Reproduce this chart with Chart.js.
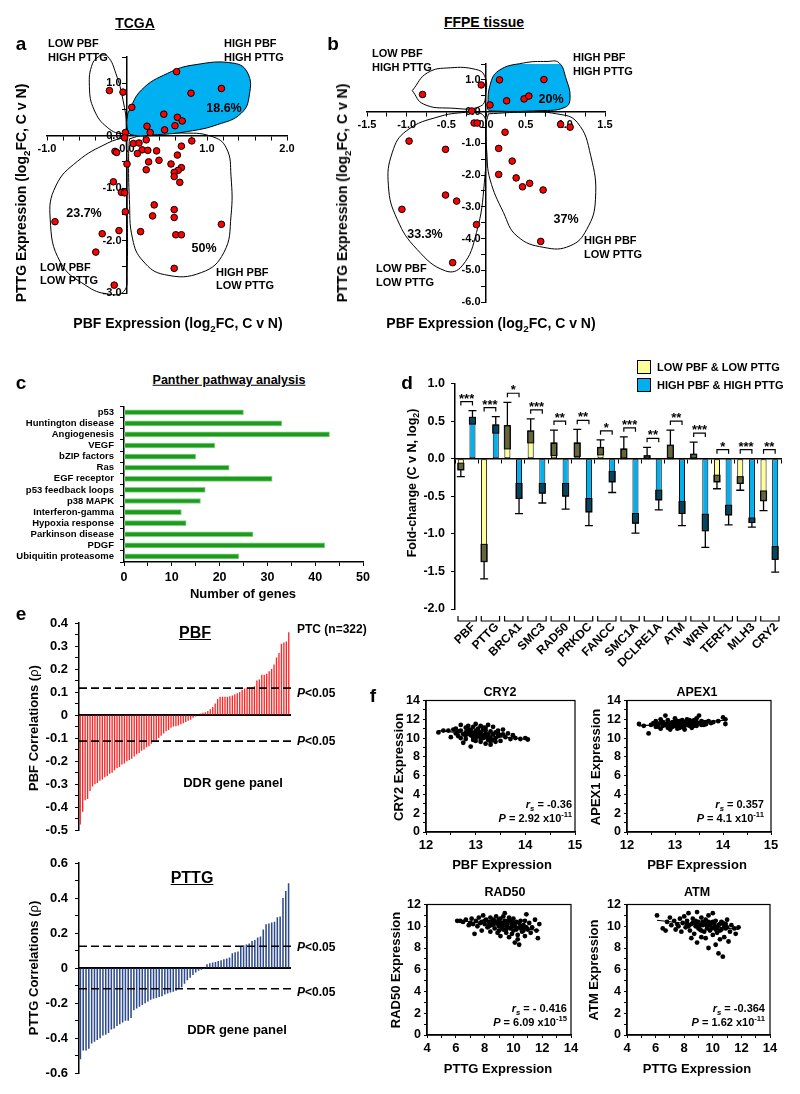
<!DOCTYPE html>
<html>
<head>
<meta charset="utf-8">
<title>PBF / PTTG figure</title>
<script src="https://cdn.jsdelivr.net/npm/chart.js@4.4.1/dist/chart.umd.min.js"></script>
<style>
  body { margin: 0; background: #fff; }
  #fig { position: relative; width: 800px; height: 1094px; overflow: hidden;
         font-family: "Liberation Sans", Arial, sans-serif; font-weight: bold; color: #000; }
  #fig canvas { position: absolute; }
  .t { position: absolute; white-space: nowrap; line-height: 1; z-index: 2; }
  .t sub, .t sup { font-size: 70%; line-height: 0; }
</style>
</head>
<body>
<div id="fig"></div>
<script>
// ---- a: TCGA (log2FC, cancer v normal) ----
const tcgaPbf  = [-0.22, -0.05,
  0.62, 0.80, 1.18, 0.06, 0.46, 0.63, 0.69, 0.60, 0.25, 0.47, 0.29,
  -0.02, -0.03,
  0.81, 0.24, 0.08, 0.15, 0.68, 0.19, 0.13, 0.26, 0.37, 0.27, 0.40, 0.24, 0.55, 0.63,
  0.68, 0.64, 0.59, 0.59, 0.66, 0.34, 0.59, 0.32, 0.59, 0.17, 0.61, 0.68, 1.18, 0.59,
  -0.15, -0.13, 0.00, -0.17, -0.07, -0.03, -0.02, -0.10, -0.31, -0.90, -0.39, -0.16];
const tcgaPttg = [0.86, 0.83,
  1.22, 0.81, 0.90, 0.54, 0.41, 0.35, 0.28, 0.19, 0.18, 0.11, 0.06,
  0.06, -0.04,
  -0.10, -0.08, -0.15, -0.14, -0.20, -0.27, -0.34, -0.28, -0.29, -0.50, -0.47, -0.65, -0.54, -0.37,
  -0.61, -0.66, -0.70, -0.78, -0.89, -1.32, -1.41, -1.53, -1.56, -1.83, -1.89, -1.89, -1.69, -2.53,
  -0.30, -0.32, -0.54, -0.88, -1.08, -1.09, -1.45, -1.81, -1.87, -1.64, -2.22, -2.85];
const tcgaHighHigh = [[0.01,0.43],[0.18,0.87],[0.51,1.19],[0.84,1.35],[1.34,1.38],[1.51,1.19],[1.53,0.78],
  [1.43,0.43],[1.13,0.21],[0.76,0.08],[0.38,0.02],[0.05,0.02],[0.0,0.18],[0.01,0.43]];
const tcgaLowHigh = [[-0.33,1.54],[-0.43,1.38],[-0.47,0.94],[-0.41,0.49],[-0.24,0.15],[-0.05,0.04],
  [-0.01,0.18],[-0.05,0.68],[-0.14,1.19],[-0.24,1.51],[-0.33,1.54]];
const tcgaLowLow = [[-0.03,-0.03],[-0.24,-0.14],[-0.62,-0.49],[-0.89,-0.96],[-0.96,-1.59],[-0.83,-2.42],
  [-0.51,-2.86],[-0.24,-3.02],[-0.04,-2.97],[0.0,-2.61],[0.0,-1.22],[-0.01,-0.14],[-0.03,-0.03]];
const tcgaHighLow = [[0.03,-0.06],[0.26,0.03],[0.68,0.05],[1.05,-0.01],[1.24,-0.23],[1.30,-0.77],[1.30,-1.53],
  [1.21,-2.23],[0.93,-2.61],[0.47,-2.65],[0.20,-2.39],[0.07,-1.97],[0.03,-1.22],[0.02,-0.39],[0.03,-0.06]];

// ---- b: FFPE tissue ----
const ffpePbf  = [-0.80, -0.06, 0.17, 0.73, 0.26, 0.48, 0.54, 0.05, -0.18,
  -0.15, -0.11, -0.97, -0.51, -0.51, -0.37, -1.06, -0.12, -0.42,
  0.94, 1.06, 0.24, 0.16, 0.33, 0.16, 0.38, 0.46, 0.55, 0.72, 0.69];
const ffpePttg = [0.54, 0.84, 1.00, 1.01, 0.34, 0.40, 0.49, 0.21, 0.02,
  -0.36, -0.36, -0.93, -1.19, -2.63, -2.82, -3.08, -3.56, -4.76,
  -0.40, -0.49, -0.65, -1.16, -1.56, -1.98, -2.09, -2.37, -2.26, -2.47, -4.09];
const ffpeHighHigh = [[0.02,0.08],[0.05,0.82],[0.16,1.29],[0.47,1.53],[0.77,1.58],[0.92,1.54],[1.01,1.03],
  [1.06,0.45],[1.00,0.14],[0.68,0.03],[0.05,0.02],[0.02,0.08]];
const ffpeLowHigh = [[-0.93,0.66],[-0.79,0.24],[-0.45,0.11],[-0.07,0.17],[0.0,0.61],[-0.02,1.14],
  [-0.13,1.33],[-0.45,1.38],[-0.74,1.22],[-0.93,0.66]];
const ffpeLowLow = [[-0.20,0.0],[-0.58,-0.15],[-1.0,-0.60],[-1.18,-1.28],[-1.23,-2.34],[-1.12,-3.39],
  [-0.87,-4.34],[-0.51,-5.02],[-0.30,-4.86],[-0.12,-3.81],[-0.02,-2.23],[0.0,-0.65],[-0.03,-0.13],[-0.20,0.0]];
const ffpeHighLow = [[0.03,-0.07],[0.47,-0.02],[0.89,-0.07],[1.15,-0.34],[1.32,-1.39],[1.38,-2.76],[1.27,-3.71],
  [1.06,-4.23],[0.73,-4.28],[0.39,-3.92],[0.22,-3.18],[0.05,-2.13],[0.01,-1.28],[0.0,-0.44],[0.03,-0.07]];

// ---- c: Panther pathways ----
const pathways = ['p53', 'Huntington disease', 'Angiogenesis', 'VEGF', 'bZIP factors', 'Ras', 'EGF receptor',
  'p53 feedback loops', 'p38 MAPK', 'Interferon-gamma', 'Hypoxia response', 'Parkinson disease', 'PDGF',
  'Ubiquitin proteasome'];
const pathwayGenes = [25, 33, 43, 19, 15, 22, 31, 17, 16, 12, 13, 27, 42, 24];

// ---- d: DDR genes fold-change ----
const genes = ['PBF', 'PTTG', 'BRCA1', 'SMC3', 'RAD50', 'PRKDC', 'FANCC', 'SMC1A', 'DCLRE1A', 'ATM', 'WRN',
  'TERF1', 'MLH3', 'CRY2'];
const lowLow     = [-0.15, -1.37, 0.44, 0.37, 0.21, 0.21, 0.15, 0.13, 0.04, 0.18, 0.06, -0.31, -0.33, -0.56];
const lowLowErr  = [0.09, 0.23, 0.31, 0.16, 0.17, 0.18, 0.10, 0.16, 0.11, 0.20, 0.16, 0.09, 0.09, 0.13];
const highHigh   = [0.55, 0.45, -0.53, -0.46, -0.50, -0.71, -0.31, -0.86, -0.55, -0.73, -0.96, -0.75, -0.85, -1.34];
const highHighErr = [0.09, 0.11, 0.20, 0.13, 0.17, 0.18, 0.14, 0.13, 0.13, 0.16, 0.22, 0.13, 0.06, 0.17];
const sigStars = ['***', '***', '*', '***', '**', '**', '*', '***', '**', '**', '***', '*', '***', '**'];

// ---- e: correlations with DDR gene panel (sorted) ----
const pbfCorr = [-0.475, -0.42, -0.37, -0.365, -0.33, -0.31, -0.30, -0.295, -0.285, -0.28, -0.27, -0.265,
  -0.255, -0.25, -0.24, -0.23, -0.225, -0.215, -0.21, -0.20, -0.195, -0.19, -0.18, -0.17, -0.165, -0.155,
  -0.15, -0.14, -0.135, -0.125, -0.115, -0.11, -0.10, -0.09, -0.08, -0.07, -0.065, -0.055, -0.05, -0.048,
  -0.045, -0.04, -0.035, -0.03, -0.025, -0.02, -0.012, -0.006,
  0.004, 0.007, 0.01, 0.012, 0.018, 0.025, 0.035, 0.05, 0.07, 0.08, 0.08, 0.08, 0.08, 0.082, 0.085, 0.09,
  0.095, 0.10, 0.11, 0.115, 0.12, 0.12, 0.122, 0.125, 0.15, 0.155, 0.175, 0.175, 0.18, 0.19, 0.20, 0.22,
  0.25, 0.27, 0.31, 0.315, 0.32, 0.36];
const pttgCorr = [-0.52, -0.47, -0.47, -0.46, -0.43, -0.42, -0.41, -0.40, -0.385, -0.38, -0.37, -0.35,
  -0.345, -0.33, -0.32, -0.31, -0.30, -0.30, -0.285, -0.24, -0.23, -0.22, -0.21, -0.20, -0.19, -0.18,
  -0.175, -0.17, -0.165, -0.16, -0.15, -0.145, -0.14, -0.135, -0.13, -0.12, -0.11, -0.09, -0.07, -0.055,
  -0.04, -0.025, -0.015, -0.01, -0.005,
  0.022, 0.028, 0.032, 0.035, 0.04, 0.045, 0.05, 0.055, 0.06, 0.085, 0.09, 0.095, 0.12, 0.13, 0.135,
  0.14, 0.155, 0.16, 0.175, 0.18, 0.22, 0.25, 0.255, 0.26, 0.265, 0.29, 0.295, 0.40, 0.44, 0.485];
const pbfCut = [0.117, -0.113];
const pttgCut = [0.125, -0.118];

// ---- f: expression scatter (PTC, n=322) ----
const cry2Points = [[12.25,10.6],[12.35,10.8],[12.45,10.8],[12.5,10.1],[12.6,11.0],[12.6,10.5],[12.65,10.2],
  [12.7,11.4],[12.7,10.8],[12.75,10.4],[12.8,11.1],[12.8,10.6],[12.8,9.9],[12.85,11.3],[12.85,10.9],[12.9,10.3],
  [12.9,9.1],[12.9,10.7],[12.95,11.2],[12.95,10.1],[13.0,11.5],[13.0,10.8],[13.0,10.4],[13.0,9.7],[13.05,11.0],
  [13.05,10.2],[13.1,10.6],[13.1,9.9],[13.1,11.3],[13.15,10.9],[13.15,10.0],[13.2,10.5],[13.2,9.4],[13.2,11.1],
  [13.25,10.2],[13.25,9.8],[13.3,10.7],[13.3,9.3],[13.35,10.4],[13.35,11.2],[13.4,10.0],[13.4,9.6],[13.45,10.8],
  [13.5,10.3],[13.5,9.7],[13.55,10.9],[13.6,10.1],[13.65,10.5],[13.7,9.9],[13.75,10.3],[13.8,10.0],[13.9,9.9],
  [14.0,10.0],[14.05,9.85],[12.55,10.9],[12.75,9.5],[13.25,11.4],[13.45,10.5],[12.95,10.5],[13.15,10.3],
  [12.7,10.0],[12.8,10.3],[12.9,10.9],[13.0,10.0],[13.05,10.6],[13.1,10.3],[13.2,10.8],[13.25,10.4],[13.3,10.0],
  [13.35,9.8],[13.4,10.6],[13.45,10.2],[12.85,10.5],[13.15,11.1],[12.95,9.8],[13.3,9.6],[12.65,10.7],[13.55,10.4],
  [13.1,9.6],[13.2,10.1]];
const cry2Fit = [[12.25,10.8],[14.05,9.85]];
const apex1Points = [[12.25,11.5],[12.35,11.3],[12.45,10.5],[12.5,11.4],[12.55,11.6],[12.6,11.2],[12.6,11.8],
  [12.65,11.5],[12.7,11.0],[12.7,12.0],[12.75,11.3],[12.75,11.7],[12.8,11.5],[12.8,12.4],[12.85,11.1],[12.85,11.9],
  [12.9,11.4],[12.9,10.9],[12.95,11.7],[12.95,11.2],[13.0,11.5],[13.0,12.1],[13.05,11.0],[13.05,11.8],[13.1,11.4],
  [13.1,11.6],[13.15,11.2],[13.15,11.9],[13.2,11.5],[13.2,10.9],[13.25,11.7],[13.25,12.0],[13.3,11.3],[13.3,11.6],
  [13.35,11.8],[13.35,11.1],[13.4,11.5],[13.45,12.1],[13.45,11.3],[13.5,11.6],[13.5,12.4],[13.55,11.4],[13.6,11.7],
  [13.65,11.5],[13.7,11.8],[13.75,11.6],[13.8,11.7],[13.9,11.8],[14.0,12.2],[14.05,11.5],[14.05,12.0],[12.65,11.2],
  [12.9,11.6],[13.1,11.1],[13.4,11.9],[12.8,11.4],[13.2,11.3],[13.0,11.3],[12.7,11.6],[13.6,11.4],
  [12.75,11.5],[12.85,11.6],[12.95,11.4],[13.05,11.5],[13.15,11.6],[13.25,11.4],[13.35,11.5],[13.45,11.7],
  [12.9,11.3],[13.0,11.7],[13.1,11.8],[13.2,11.7],[13.3,11.9],[13.55,11.8],[12.6,11.4],[13.4,11.3],[12.85,11.3],
  [13.15,11.4],[13.65,11.7],[13.05,11.3]];
const apex1Fit = [[12.25,11.3],[14.05,11.9]];
const rad50Points = [[6.1,10.5],[6.3,10.5],[6.5,10.4],[6.7,10.6],[6.9,10.1],[7.0,10.3],[7.1,10.7],[7.2,10.2],
  [7.3,9.3],[7.4,10.5],[7.5,10.0],[7.6,10.8],[7.7,10.3],[7.8,10.4],[7.8,9.6],[7.9,11.0],[8.0,10.2],[8.1,10.6],
  [8.2,9.9],[8.3,10.4],[8.4,10.8],[8.4,9.5],[8.5,10.1],[8.6,10.6],[8.7,9.8],[8.8,10.3],[8.8,10.9],[8.9,9.4],
  [9.0,10.0],[9.0,10.6],[9.1,9.1],[9.2,10.3],[9.3,10.9],[9.3,9.7],[9.4,11.2],[9.5,10.1],[9.5,9.4],[9.6,10.5],
  [9.7,9.0],[9.7,10.8],[9.8,9.8],[9.9,10.3],[9.9,9.3],[10.0,10.7],[10.0,9.6],[10.1,10.0],[10.1,8.5],[10.2,10.4],
  [10.3,9.2],[10.3,8.8],[10.4,9.9],[10.4,8.3],[10.5,10.5],[10.6,9.5],[10.7,10.1],[10.8,9.1],[10.9,11.1],[11.0,9.7],
  [11.1,10.3],[11.2,9.4],[11.3,9.9],[11.5,10.6],[11.6,9.6],[11.7,8.9],[11.8,10.2],[9.6,9.9],[8.6,10.2],[10.5,9.8],
  [9.2,9.9],[10.8,10.5],[8.0,10.5],[8.3,10.0],[8.7,10.5],[9.0,10.3],[9.1,10.7],[9.3,10.1],[9.4,10.5],[9.6,10.2],
  [9.8,10.5],[9.9,10.0],[10.1,10.3],[10.2,9.7],[10.4,10.3],[10.6,10.0],[10.7,9.6],[9.5,9.7],[9.0,9.6],[8.5,10.4],
  [10.0,10.2],[10.9,9.9]];
const rad50Fit = [[6.1,10.55],[11.8,9.6]];
const atmPoints = [[6.1,11.0],[6.5,9.8],[6.7,9.6],[6.8,10.4],[7.0,10.8],[7.1,10.1],[7.3,10.5],[7.4,9.7],
  [7.5,10.2],[7.7,10.7],[7.8,9.5],[7.9,10.3],[8.0,10.9],[8.1,9.9],[8.2,10.5],[8.3,11.2],[8.4,9.6],[8.5,10.2],
  [8.5,8.9],[8.6,10.7],[8.7,9.3],[8.8,10.0],[8.9,11.3],[8.9,8.5],[9.0,10.4],[9.1,9.7],[9.2,10.8],[9.2,9.0],
  [9.3,10.1],[9.4,9.5],[9.5,10.6],[9.5,8.9],[9.6,10.0],[9.7,11.0],[9.7,8.0],[9.8,9.6],[9.9,10.3],[10.0,9.2],
  [10.0,11.2],[10.1,9.9],[10.2,10.5],[10.2,8.3],[10.3,9.4],[10.4,7.5],[10.4,10.1],[10.5,8.8],[10.6,9.7],[10.7,7.2],
  [10.7,10.3],[10.8,9.0],[10.9,9.8],[11.0,10.6],[11.1,8.6],[11.2,9.5],[11.3,10.1],[11.5,9.8],[11.6,9.3],[11.8,9.9],
  [9.4,10.2],[8.3,10.0],[10.8,10.0],[9.0,9.8],[7.6,10.0],[10.5,9.6],[8.2,10.2],[8.6,10.3],[8.8,10.5],[9.1,10.1],
  [9.3,10.4],[9.5,10.2],[9.6,9.8],[9.8,10.1],[9.9,9.8],[10.0,10.4],[10.1,10.2],[10.3,9.9],[10.5,10.2],[10.6,10.4],
  [10.9,10.2],[9.2,9.6],[8.9,10.2],[10.2,9.7],[11.0,9.9],[9.7,10.4]];
const atmFit = [[6.1,10.55],[11.8,9.7]];

// ---------------------------------------------------------------
Chart.defaults.font.family = '"Liberation Sans", Arial, sans-serif';
Chart.defaults.font.weight = 'bold';
Chart.defaults.color = '#000';

const fig = document.getElementById('fig');
const near = (v, m) => Math.abs(v / m - Math.round(v / m)) < 1e-6;
const fmt1 = v => (Math.round(v * 10) / 10 + 0).toFixed(1);

function canvasAt(left, top, w, h) {
  const c = document.createElement('canvas');
  c.width = w; c.height = h;
  c.style.left = left + 'px'; c.style.top = top + 'px';
  c.style.width = w + 'px'; c.style.height = h + 'px';
  fig.appendChild(c);
  return c;
}

function txt(html, x, y, size, anchor, extra) {
  const d = document.createElement('div');
  d.className = 't';
  d.innerHTML = html;
  d.style.left = x + 'px';
  d.style.top = y + 'px';
  d.style.fontSize = size + 'px';
  const tr = {l: 'translate(0,-50%)', c: 'translate(-50%,-50%)', r: 'translate(-100%,-50%)',
              v: 'translate(-50%,-50%) rotate(-90deg)'};
  d.style.transform = tr[anchor || 'c'];
  if (extra) d.style.cssText += extra;
  fig.appendChild(d);
}

const base = {responsive: false, animation: false, events: [], devicePixelRatio: 1,
  plugins: {legend: {display: false}, tooltip: {enabled: false}}};

function axis(extra) {
  return Object.assign({
    border: {color: '#000', width: 1.5},
    grid: {drawOnChartArea: false, color: '#000', tickLength: 4}
  }, extra);
}

// quadrant scatter (a, b)
function quadrantChart(canvas, pad, xr, yr, xStep, xLabelStep, pbf, pttg, groups) {
  const datasets = [{
    data: pbf.map((v, i) => ({x: v, y: pttg[i]})),
    pointRadius: 3.3, pointBackgroundColor: '#ff0000', pointBorderColor: '#000', pointBorderWidth: 1, clip: false
  }];
  groups.forEach(g => datasets.push({
    data: g.path.map(p => ({x: p[0], y: p[1]})),
    showLine: true, tension: 0.45, pointRadius: 0, borderColor: '#000', borderWidth: 1,
    fill: g.filled ? 'shape' : false, backgroundColor: '#00b0f0', clip: false
  }));
  return new Chart(canvas, {
    type: 'scatter',
    data: {datasets},
    options: Object.assign({}, base, {
      layout: {padding: pad},
      scales: {
        x: axis({type: 'linear', min: xr[0], max: xr[1], position: {y: 0}, z: 1,
          ticks: {stepSize: xStep, autoSkip: false, maxRotation: 0, padding: 3, font: {size: 11},
                  callback: v => near(v, xLabelStep) ? fmt1(v) : ''}}),
        y: axis({type: 'linear', min: yr[0], max: yr[1], position: {x: 0}, z: 1,
          ticks: {stepSize: 0.5, autoSkip: false, font: {size: 11},
                  callback: v => near(v, 1) ? fmt1(v) + '\u2002' : ''}})
      }
    })
  });
}

quadrantChart(canvasAt(0, 30, 330, 290), {left: 47, right: 43, top: 27, bottom: 27},
  [-1, 2], [-3, 1.5], 0.2, 1, tcgaPbf, tcgaPttg,
  [{path: tcgaHighHigh, filled: true}, {path: tcgaLowHigh}, {path: tcgaLowLow}, {path: tcgaHighLow}]);

quadrantChart(canvasAt(340, 30, 300, 290), {left: 27, right: 35, top: 34, bottom: 18},
  [-1.5, 1.5], [-6, 1.5], 0.25, 0.5, ffpePbf, ffpePttg,
  [{path: ffpeHighHigh, filled: true}, {path: ffpeLowHigh}, {path: ffpeLowLow}, {path: ffpeHighLow}]);

// c: pathway bars
new Chart(canvasAt(0, 395, 390, 205), {
  type: 'bar',
  data: {labels: pathways, datasets: [{data: pathwayGenes, backgroundColor: '#1e9b1e',
    borderColor: '#7fd27f', borderWidth: 1, borderSkipped: false, barThickness: 5}]},
  options: Object.assign({}, base, {
    indexAxis: 'y',
    layout: {padding: {left: 0, right: 27, top: 6, bottom: 0}},
    scales: {
      x: axis({min: 0, max: 50, ticks: {stepSize: 5, autoSkip: false, maxRotation: 0, padding: 4, font: {size: 12.5},
        callback: v => near(v, 10) ? v : ''}, afterFit: s => { s.height = 38; }}),
      y: axis({ticks: {font: {size: 9.5}, padding: 6, autoSkip: false}, afterFit: s => { s.width = 124; }})
    }
  })
});

// d: fold change bars with SE boxes, whiskers and significance
const foldExtras = {
  id: 'foldExtras',
  afterDatasetsDraw(chart) {
    const {ctx, chartArea: area, scales: {y}} = chart;
    ctx.save();
    ctx.strokeStyle = '#000';
    [[lowLow, lowLowErr], [highHigh, highHighErr]].forEach(([vals, errs], di) => {
      chart.getDatasetMeta(di).data.forEach((bar, i) => {
        const v = vals[i], e = errs[i], s = v < 0 ? -1 : 1;
        const inner = s > 0 ? Math.max(v - e, 0) : Math.min(v + e, 0);
        const yv = y.getPixelForValue(v), yi = y.getPixelForValue(inner), ye = y.getPixelForValue(v + s * e);
        const left = bar.x - bar.width / 2;
        ctx.fillStyle = 'rgba(0,0,0,0.6)';
        ctx.fillRect(left, Math.min(yv, yi), bar.width, Math.abs(yi - yv));
        ctx.lineWidth = 1;
        ctx.strokeRect(left, Math.min(yv, yi), bar.width, Math.abs(yi - yv));
        ctx.lineWidth = 1.3;
        ctx.beginPath();
        ctx.moveTo(bar.x, yv); ctx.lineTo(bar.x, ye);
        ctx.moveTo(bar.x - 4, ye); ctx.lineTo(bar.x + 4, ye);
        ctx.stroke();
      });
    });
    const lo = chart.getDatasetMeta(0).data, hi = chart.getDatasetMeta(1).data;
    ctx.fillStyle = '#000';
    ctx.font = 'bold 13px "Liberation Sans", Arial, sans-serif';
    ctx.textAlign = 'center';
    ctx.textBaseline = 'alphabetic';
    sigStars.forEach((stars, i) => {
      const top = Math.max(0, lowLow[i] + (lowLow[i] > 0 ? lowLowErr[i] : 0),
        highHigh[i] + (highHigh[i] > 0 ? highHighErr[i] : 0)) + 0.12;
      const py = y.getPixelForValue(top);
      const x0 = lo[i].x, x1 = hi[i].x;
      ctx.lineWidth = 1.2;
      ctx.beginPath();
      ctx.moveTo(x0, py + 4); ctx.lineTo(x0, py); ctx.lineTo(x1, py); ctx.lineTo(x1, py + 4);
      ctx.stroke();
      ctx.fillText(stars, (x0 + x1) / 2, py + 1);
    });
    const band = (area.right - area.left) / genes.length;
    genes.forEach((g, i) => {
      const l = area.left + band * i + 3, r = area.left + band * (i + 1) - 2, py = area.bottom + 12;
      ctx.beginPath();
      ctx.moveTo(l, py - 5); ctx.lineTo(l, py); ctx.lineTo(r, py); ctx.lineTo(r, py - 5);
      ctx.stroke();
    });
    ctx.restore();
  }
};

new Chart(canvasAt(400, 370, 400, 310), {
  type: 'bar',
  data: {labels: genes, datasets: [
    {data: lowLow, backgroundColor: '#ffff99', borderColor: '#000', borderWidth: 1, borderSkipped: false},
    {data: highHigh, backgroundColor: '#00b0f0', borderColor: '#000', borderWidth: 1, borderSkipped: false}]},
  options: Object.assign({}, base, {
    datasets: {bar: {categoryPercentage: 1, barPercentage: 0.52}},
    layout: {padding: {left: 0, right: 19, top: 12, bottom: 0}},
    scales: {
      x: {grid: {display: false}, border: {display: false},
          ticks: {minRotation: 45, maxRotation: 45, autoSkip: false, padding: 3, labelOffset: 7, font: {size: 12}},
          afterFit: s => { s.height = 71; }},
      x2: {type: 'category', labels: genes, offset: true, position: {y: 0}, z: 1,
           grid: {offset: true, drawOnChartArea: false, color: '#000', tickLength: 4},
           border: {color: '#000', width: 1.5}, ticks: {display: false}},
      y: axis({min: -2, max: 1, ticks: {stepSize: 0.5, padding: 6, font: {size: 12.5}, callback: v => fmt1(v)},
        afterFit: s => { s.width = 55; }})
    }
  }),
  plugins: [foldExtras]
});

// e: correlation bars
const cutLines = levels => ({
  id: 'cutLines',
  afterDatasetsDraw(chart) {
    const {ctx, chartArea: a, scales: {y}} = chart;
    ctx.save();
    ctx.setLineDash([8, 4]);
    ctx.lineWidth = 1.6;
    ctx.strokeStyle = '#000';
    levels.forEach(v => {
      const py = y.getPixelForValue(v);
      ctx.beginPath(); ctx.moveTo(a.left, py); ctx.lineTo(a.right + 4, py); ctx.stroke();
    });
    ctx.restore();
  }
});

function corrChart(canvas, pad, vals, color, yr, step, labelStep, cut) {
  return new Chart(canvas, {
    type: 'bar',
    data: {labels: vals.map((v, i) => i + 1),
           datasets: [{data: vals, backgroundColor: color, categoryPercentage: 1, barPercentage: 0.55}]},
    options: Object.assign({}, base, {
      layout: {padding: pad},
      scales: {
        x: {position: {y: 0}, z: 1, ticks: {display: false},
            grid: {drawOnChartArea: false, drawTicks: false}, border: {color: '#000', width: 2}},
        y: axis({min: yr[0], max: yr[1], ticks: {stepSize: step, autoSkip: false, padding: 7, font: {size: 13},
          callback: v => near(v, labelStep) ? (Math.abs(v) < 1e-9 ? '0' : fmt1(v)) : ''},
          afterFit: s => { s.width = 79; }})
      }
    }),
    plugins: [cutLines(cut)]
  });
}

corrChart(canvasAt(0, 605, 380, 240), {left: 0, right: 90, top: 18, bottom: 9},
  pbfCorr, '#ff2424', [-0.5, 0.4], 0.05, 0.1, pbfCut);
corrChart(canvasAt(0, 848, 380, 240), {left: 0, right: 90, top: 15, bottom: 11},
  pttgCorr, '#2f4b8f', [-0.6, 0.6], 0.1, 0.2, pttgCut);

// f: expression scatter plots
const frame = {
  id: 'frame',
  afterDraw(chart) {
    const {ctx, chartArea: a} = chart;
    ctx.save();
    ctx.strokeStyle = '#000';
    ctx.lineWidth = 1.2;
    ctx.strokeRect(a.left, a.top, a.right - a.left, a.bottom - a.top);
    ctx.restore();
  }
};

function exprChart(canvas, pts, fit, xr, xStep, xLabelStep, yMax) {
  return new Chart(canvas, {
    type: 'scatter',
    data: {datasets: [
      {data: pts.map(p => ({x: p[0], y: p[1]})), pointRadius: 2.4, pointBackgroundColor: '#000', pointBorderWidth: 0},
      {data: fit.map(p => ({x: p[0], y: p[1]})), showLine: true, pointRadius: 0, borderColor: '#000', borderWidth: 1.2}
    ]},
    options: Object.assign({}, base, {
      layout: {padding: {left: 0, right: 15, top: 10, bottom: 0}},
      scales: {
        x: axis({type: 'linear', min: xr[0], max: xr[1],
          grid: {drawOnChartArea: false, color: '#000', tickLength: 3},
          ticks: {stepSize: xStep, autoSkip: false, maxRotation: 0, padding: 3, font: {size: 13},
                  callback: v => near(v, xLabelStep) ? Math.round(v) : ''},
          afterFit: s => { s.height = 30; }}),
        y: axis({type: 'linear', min: 0, max: yMax,
          grid: {drawOnChartArea: false, color: '#000', tickLength: 3},
          ticks: {stepSize: 1, autoSkip: false, padding: 3, font: {size: 12.5},
                  callback: v => near(v, 2) ? Math.round(v) : ''},
          afterFit: s => { s.width = 46; }})
      }
    }),
    plugins: [frame]
  });
}

exprChart(canvasAt(380, 690, 210, 172), cry2Points, cry2Fit, [12, 15], 0.5, 1, 14);
exprChart(canvasAt(581, 690, 205, 172), apex1Points, apex1Fit, [12, 15], 0.5, 1, 14);
exprChart(canvasAt(381, 894, 205, 171), rad50Points, rad50Fit, [4, 14], 1, 2, 12);
exprChart(canvasAt(581, 894, 204, 171), atmPoints, atmFit, [4, 14], 1, 2, 12);

// ---- text ----
const log2 = 'log<sub>2</sub>FC, C v N)';
// a
txt('<u>TCGA</u>', 135, 23, 14);
txt('a', 21, 43, 19);
txt('LOW PBF', 48, 43, 11, 'l'); txt('HIGH PTTG', 48, 57, 11, 'l');
txt('HIGH PBF', 224, 43, 11, 'l'); txt('HIGH PTTG', 224, 57, 11, 'l');
txt('18.6%', 224, 108, 12.5);
txt('23.7%', 84, 213, 12.5);
txt('50%', 204, 248, 12.5);
txt('LOW PBF', 40, 267, 11, 'l'); txt('LOW PTTG', 40, 280, 11, 'l');
txt('HIGH PBF', 216, 272, 11, 'l'); txt('LOW PTTG', 216, 285, 11, 'l');
txt('PTTG Expression (' + log2, 21, 193, 14, 'v');
txt('PBF Expression (' + log2, 178, 323, 14);
// b
txt('<u>FFPE tissue</u>', 484, 22, 14);
txt('b', 333, 43, 19);
txt('LOW PBF', 372, 53, 11, 'l'); txt('HIGH PTTG', 372, 67, 11, 'l');
txt('HIGH PBF', 573, 57, 11, 'l'); txt('HIGH PTTG', 573, 71, 11, 'l');
txt('20%', 551, 99, 12.5);
txt('37%', 566, 219, 12.5);
txt('33.3%', 425, 234, 12.5);
txt('HIGH PBF', 584, 240, 11, 'l'); txt('LOW PTTG', 584, 254, 11, 'l');
txt('LOW PBF', 376, 268, 11, 'l'); txt('LOW PTTG', 376, 282, 11, 'l');
txt('PTTG Expression (' + log2, 342, 193, 14, 'v');
txt('PBF Expression (' + log2, 491, 323, 14);
// c
txt('c', 21, 382, 19);
txt('<u>Panther pathway analysis</u>', 229, 380, 12.5);
txt('Number of genes', 243, 593, 13);
// d
txt('d', 407, 382, 19);
[['#ffff99', 360, 'LOW PBF &amp; LOW PTTG'], ['#00b0f0', 378, 'HIGH PBF &amp; HIGH PTTG']].forEach(([c, y, label]) => {
  const b = document.createElement('div');
  b.style.cssText = 'position:absolute;left:637px;top:' + y + 'px;width:12px;height:12px;background:' + c +
    ';border:1px solid #000;z-index:2';
  fig.appendChild(b);
  txt(label, 657, y + 7, 11, 'l');
});
txt('Fold-change (C v N, log<sub>2</sub>)', 412, 483, 12.5, 'v');
// e
txt('e', 21, 613, 19);
txt('<u>PBF</u>', 195, 633, 16);
txt('PTC (n=322)', 297, 629, 12, 'l');
txt('<i>P</i>&lt;0.05', 297, 693, 12, 'l');
txt('<i>P</i>&lt;0.05', 297, 741, 12, 'l');
txt('DDR gene panel', 233, 782, 13);
txt('PBF Correlations (<span style="font-weight:normal">\u03c1</span>)', 33, 728, 13, 'v');
txt('<u>PTTG</u>', 192, 878, 16);
txt('<i>P</i>&lt;0.05', 297, 947, 12, 'l');
txt('<i>P</i>&lt;0.05', 297, 992, 12, 'l');
txt('DDR gene panel', 237, 1029, 13);
txt('PTTG Correlations (<span style="font-weight:normal">\u03c1</span>)', 33, 968, 13, 'v');
// f
txt('f', 373, 695, 19);
txt('CRY2', 500, 692, 12.5);
txt('APEX1', 697, 692, 12.5);
txt('RAD50', 505, 892, 12.5);
txt('ATM', 697, 892, 12.5);
txt('<i>r<sub>s</sub></i> = -0.36', 572, 804, 11, 'r');
txt('<i>P</i> = 2.92 x10<sup>-11</sup>', 572, 818, 11, 'r');
txt('<i>r<sub>s</sub></i> = 0.357', 764, 804, 11, 'r');
txt('<i>P</i> = 4.1 x10<sup>-11</sup>', 764, 818, 11, 'r');
txt('<i>r<sub>s</sub></i> = - 0.416', 567, 1008, 11, 'r');
txt('<i>P</i> = 6.09 x10<sup>-15</sup>', 567, 1022, 11, 'r');
txt('<i>r<sub>s</sub></i> = -0.364', 765, 1008, 11, 'r');
txt('<i>P</i> = 1.62 x10<sup>-11</sup>', 765, 1022, 11, 'r');
txt('PBF Expression', 502, 864, 13);
txt('PBF Expression', 697, 864, 13);
txt('PTTG Expression', 498, 1068, 13);
txt('PTTG Expression', 697, 1068, 13);
txt('CRY2 Expression', 398, 767, 13, 'v');
txt('APEX1 Expression', 595, 767, 13, 'v');
txt('RAD50 Expression', 395, 970, 13, 'v');
txt('ATM Expression', 593, 970, 13, 'v');
</script>
</body>
</html>
